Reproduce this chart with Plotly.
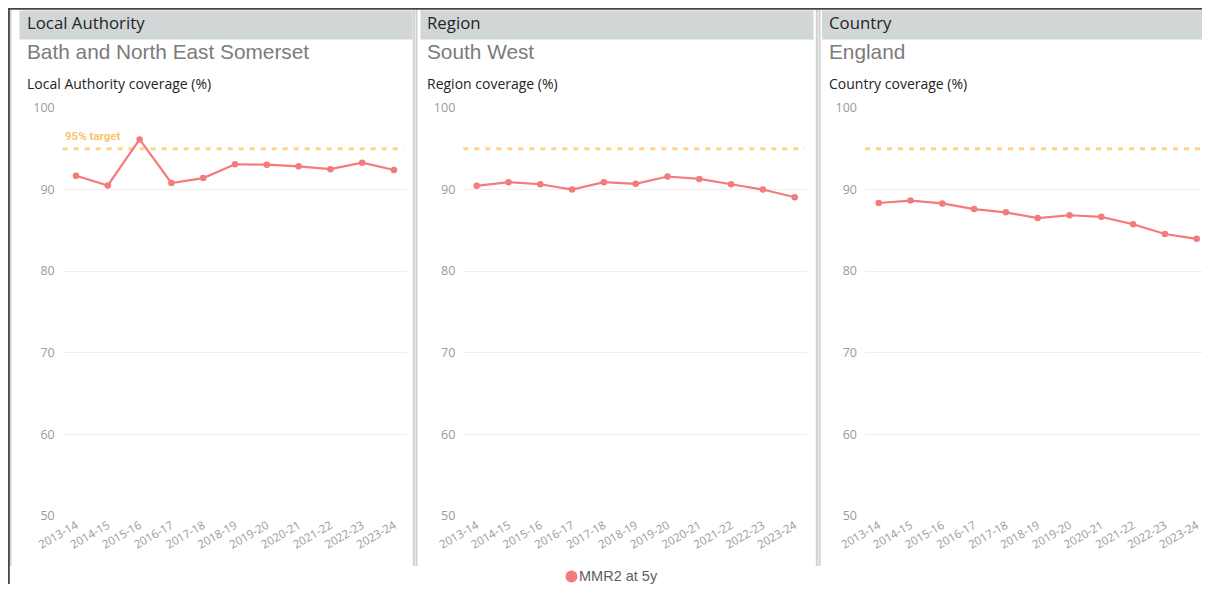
import plotly.graph_objects as go

# ---------------- data ----------------
years = ["2013-14", "2014-15", "2015-16", "2016-17", "2017-18", "2018-19",
         "2019-20", "2020-21", "2021-22", "2022-23", "2023-24"]
la_values = [91.7, 90.5, 96.15, 90.8, 91.4, 93.1, 93.05, 92.85, 92.5, 93.3, 92.4]
region_values = [90.45, 90.9, 90.65, 90.0, 90.9, 90.7, 91.6, 91.3, 90.65, 90.0, 89.05]
country_values = [88.35, 88.65, 88.3, 87.6, 87.2, 86.5, 86.85, 86.65, 85.75, 84.55, 83.95]
target = 95
series_name = "MMR2 at 5y"
headers = ["Local Authority", "Region", "Country"]
areas = ["Bath and North East Somerset", "South West", "England"]
chart_titles = ["Local Authority coverage (%)", "Region coverage (%)", "Country coverage (%)"]
y_ticks = [50, 60, 70, 80, 90, 100]

# ---------------- layout helpers ----------------
# The page body keeps its default 8px margin; the figure is sized so the page
# is exactly the window size, and positions are given in window pixels.
OFF = 8
W, H = 1210 - 2 * OFF, 592 - 2 * OFF
LINE = "#F47B7B"
TARGET_C = "#FDD487"
GRID = "#EEEEEE"
TICK_C = "#9A9A9A"
FONT = "Open Sans"
STEP = 31.8        # pixel spacing between categories
TARGET_LEN = 341.5  # pixel length of the dashed target line

def px(x):
    return min(max((x - OFF) / W, 0), 1)

def py(y):
    return min(max(1 - (y - OFF) / H, 0), 1)

panels = [
    dict(xd=(62.7, 406.7), c0=76.0, hx=(19.5, 412.5), tx=26, vals=la_values),
    dict(xd=(463.3, 807.3), c0=476.7, hx=(420.5, 813.5), tx=426, vals=region_values),
    dict(xd=(865.0, 1202.0), c0=878.7, hx=(822.0, 1210.0), tx=828, vals=country_values),
]

fig = go.Figure()
shapes = []
annotations = []
layout_axes = {}

for i, p in enumerate(panels):
    n = "" if i == 0 else str(i + 1)
    xa, ya = "x" + n, "y" + n
    fig.add_trace(go.Scatter(
        x=years, y=p["vals"], mode="lines+markers", name=series_name,
        line=dict(color=LINE, width=2.2), marker=dict(color=LINE, size=6.5),
        xaxis=xa, yaxis=ya, showlegend=False,
        hovertemplate="%{x}: %{y}<extra></extra>"))
    xr = [(p["xd"][0] - p["c0"]) / STEP, (p["xd"][1] - p["c0"]) / STEP]
    layout_axes["xaxis" + n] = dict(
        domain=[px(p["xd"][0]), px(p["xd"][1])], anchor=ya, automargin=False,
        type="category", range=xr, tickangle=-30,
        showgrid=False, zeroline=False, showline=False, ticks="",
        tickfont=dict(family=FONT, size=11.5, color=TICK_C), fixedrange=True)
    layout_axes["yaxis" + n] = dict(
        domain=[py(515.7), py(108)], anchor=xa, range=[50, 100], automargin=False,
        tickvals=y_ticks, showgrid=True, gridcolor=GRID, gridwidth=1,
        zeroline=False, showline=False, ticks="", ticklabelstandoff=7,
        tickfont=dict(family=FONT, size=12.5, color=TICK_C), fixedrange=True)
    # target line
    shapes.append(dict(type="line", xref=xa + " domain", yref=ya,
                       x0=0, x1=min(1.0, TARGET_LEN / (p["xd"][1] - p["xd"][0])),
                       y0=target, y1=target,
                       line=dict(color=TARGET_C, width=3, dash="5px,6px"), layer="below"))
    # header band
    shapes.append(dict(type="rect", xref="paper", yref="paper",
                       x0=px(p["hx"][0]), x1=px(p["hx"][1]), y0=py(39.5), y1=py(10.5),
                       fillcolor="#D1D6D6", line=dict(width=0), layer="below"))
    annotations.append(dict(text=headers[i], xref="paper", yref="paper",
                            x=px(p["tx"] - 1), y=py(23), xanchor="left", yanchor="middle",
                            showarrow=False, font=dict(family=FONT, size=16.8, color="#252423")))
    annotations.append(dict(text=areas[i], xref="paper", yref="paper",
                            x=px(p["tx"] - 1), y=py(51), xanchor="left", yanchor="middle",
                            showarrow=False, font=dict(family="Liberation Sans", size=20.8, color="#7B7B7B")))
    annotations.append(dict(text=chart_titles[i], xref="paper", yref="paper",
                            x=px(p["tx"] - 1), y=py(83.5), xanchor="left", yanchor="middle",
                            showarrow=False, font=dict(family=FONT, size=14, color="#252423")))

# target label (first panel only)
annotations.append(dict(text="95% target", xref="x domain", yref="y", x=0, y=target,
                        xanchor="left", yanchor="bottom", yshift=4, showarrow=False,
                        font=dict(family="Roboto", size=11.5, color="#F9C46A", weight="bold")))

# panel separators (light gray)
for x in [10.5, 413.8, 416.5, 816.8, 819.5]:
    shapes.append(dict(type="line", xref="paper", yref="paper",
                       x0=px(x), x1=px(x), y0=py(566), y1=py(10),
                       line=dict(color="#D0D0D0", width=2)))
# outer dark border
shapes.append(dict(type="line", xref="paper", yref="paper", x0=px(8.8), x1=px(8.8),
                   y0=0, y1=1, line=dict(color="#4A4535", width=2)))
shapes.append(dict(type="line", xref="paper", yref="paper", x0=0, x1=1,
                   y0=py(8.8), y1=py(8.8), line=dict(color="#4A4535", width=2)))

# legend (custom)
shapes.append(dict(type="circle", xref="paper", yref="paper",
                   x0=px(565.5), x1=px(577.5), y0=py(582.5), y1=py(570.5),
                   fillcolor=LINE, line=dict(width=0)))
annotations.append(dict(text=series_name, xref="paper", yref="paper",
                        x=px(577.5), y=py(576.3), xanchor="left", yanchor="middle",
                        borderpad=0, showarrow=False,
                        font=dict(family="Liberation Sans", size=14.5, color="#605E5C")))

fig.update_layout(
    width=W, height=H, margin=dict(l=0, r=0, t=0, b=0, autoexpand=False),
    paper_bgcolor="white", plot_bgcolor="white",
    showlegend=False, shapes=shapes, annotations=annotations,
    **layout_axes)

fig.write_html("out.html")
